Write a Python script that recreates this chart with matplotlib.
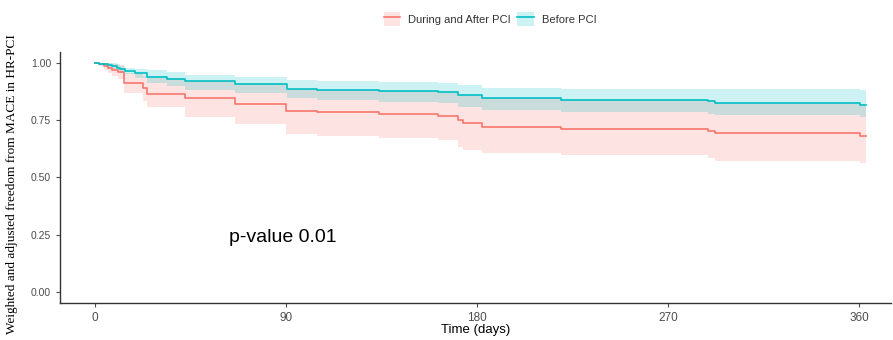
import numpy as np
import matplotlib
matplotlib.use("Agg")
import matplotlib.pyplot as plt
from matplotlib.lines import Line2D
from matplotlib.patches import Patch
from matplotlib import font_manager

# ==========================================================
# Data
# ==========================================================
red_t  = [0, 2, 4, 6.3, 8, 11, 13.8, 22.8, 24.3, 42.4, 66, 90, 104.6, 133.8,
          161.6, 171, 173.4, 182.4, 219.6, 289, 292, 360.5, 363]
red_s  = [1.0, 0.994, 0.985, 0.977, 0.970, 0.962, 0.911, 0.889, 0.863, 0.846,
          0.822, 0.792, 0.785, 0.779, 0.769, 0.751, 0.739, 0.719, 0.712, 0.703,
          0.693, 0.681, 0.681]
red_lo = [1.0, 0.985, 0.970, 0.955, 0.945, 0.930, 0.869, 0.835, 0.809, 0.766,
          0.732, 0.690, 0.681, 0.672, 0.664, 0.632, 0.620, 0.608, 0.597, 0.585,
          0.572, 0.562, 0.562]
red_hi = [1.0, 1.0, 1.0, 0.998, 0.994, 0.990, 0.955, 0.945, 0.935, 0.920,
          0.910, 0.888, 0.882, 0.878, 0.870, 0.860, 0.855, 0.848, 0.838, 0.832,
          0.827, 0.820, 0.820]

teal_t  = [0, 2, 4, 6.3, 8, 10.2, 12, 14.1, 18.9, 24.4, 33.8, 42.4, 66, 90.5,
           104.6, 133.8, 161.6, 171, 182.4, 219.6, 289, 292, 360.5, 363]
teal_s  = [1.0, 0.997, 0.994, 0.991, 0.986, 0.980, 0.972, 0.965, 0.955, 0.940,
           0.930, 0.921, 0.908, 0.888, 0.882, 0.879, 0.872, 0.860, 0.849, 0.838,
           0.832, 0.827, 0.818, 0.818]
teal_lo = [1.0, 0.994, 0.988, 0.982, 0.974, 0.966, 0.956, 0.950, 0.935, 0.912,
           0.900, 0.880, 0.868, 0.846, 0.838, 0.831, 0.826, 0.809, 0.795, 0.785,
           0.778, 0.773, 0.763, 0.763]
teal_hi = [1.0, 1.0, 1.0, 1.0, 0.998, 0.994, 0.988, 0.980, 0.975, 0.969,
           0.959, 0.948, 0.937, 0.926, 0.921, 0.918, 0.914, 0.904, 0.892, 0.886,
           0.886, 0.885, 0.883, 0.883]

labels = ["During and After PCI", "Before PCI"]
x_ticks = [0, 90, 180, 270, 360]
y_ticks = [0.00, 0.25, 0.50, 0.75, 1.00]

RED = "#F8766D"
TEAL = "#00BFC4"

# narrow font for the x axis if it is there
names = {f.name for f in font_manager.fontManager.ttflist}
NARROW = "Liberation Sans Narrow" if "Liberation Sans Narrow" in names else "Liberation Sans"

# ==========================================================
# Plot
# ==========================================================
fig = plt.figure(figsize=(8.93, 3.4), dpi=100)
ax = fig.add_axes([60 / 893, 1 - 303 / 340, 831 / 893, (303 - 51.5) / 340])

for t, s, lo, hi, col in [(red_t, red_s, red_lo, red_hi, RED),
                          (teal_t, teal_s, teal_lo, teal_hi, TEAL)]:
    ax.fill_between(t, lo, hi, step="post", color=col, alpha=0.2, lw=0)
    ax.step(t, s, where="post", color=col, lw=1.2)

ax.text(63, 0.236, "p-value 0.01", fontsize=14, family="Liberation Sans",
        va="center", ha="left", color="black")

ax.set_xlim(-16.5, 375)
ax.set_ylim(-0.048, 1.05)
ax.set_xticks(x_ticks)
ax.set_xticklabels([str(v) for v in x_ticks])
ax.set_yticks(y_ticks)
ax.set_yticklabels([f"{v:.2f}" for v in y_ticks])
ax.tick_params(colors="#4D4D4D", labelsize=7.5, length=3, width=0.8)
for lab in ax.get_yticklabels():
    lab.set_family("Liberation Sans")
for lab in ax.get_xticklabels():
    lab.set_family(NARROW)
    lab.set_fontsize(8.5)

for side in ["top", "right"]:
    ax.spines[side].set_visible(False)
for side in ["left", "bottom"]:
    ax.spines[side].set_color("#333333")
    ax.spines[side].set_linewidth(1.0)

ax.set_xlabel("Time (days)", fontsize=9.5, family=NARROW, labelpad=0)
fig.text(12 / 893, 1 - 184 / 340,
         "Weighted and adjusted freedom from MACE in HR-PCI",
         rotation=90, fontsize=9.5, family="Liberation Serif",
         ha="center", va="center")

handles = [(Patch(facecolor=RED, alpha=0.2, lw=0), Line2D([], [], color=RED, lw=1.2)),
           (Patch(facecolor=TEAL, alpha=0.2, lw=0), Line2D([], [], color=TEAL, lw=1.2))]
leg = fig.legend(handles, labels, loc="center", bbox_to_anchor=(490 / 893, 1 - 19 / 340),
                 ncol=2, frameon=False, prop={"family": "Liberation Sans", "size": 8},
                 handlelength=1.5, handleheight=1.6, columnspacing=0.6, handletextpad=0.7)
for txt in leg.get_texts():
    txt.set_color("#333333")

fig.savefig("out.png", dpi=100)
